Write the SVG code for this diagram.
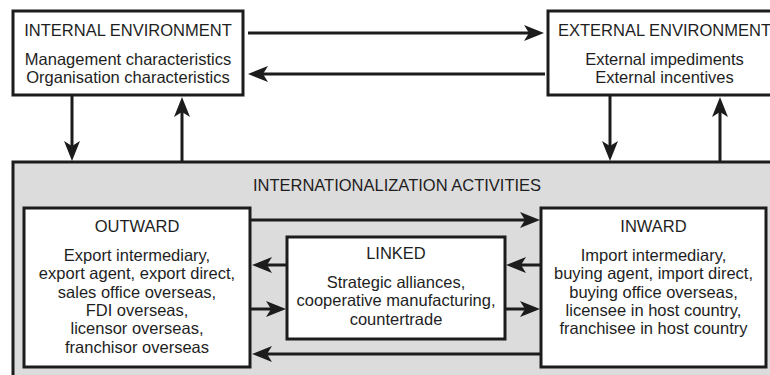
<svg xmlns="http://www.w3.org/2000/svg" width="770" height="375" viewBox="0 0 770 375">
<style>
.box{fill:#ffffff;stroke:#1c1c1c;stroke-width:3}
.grey{fill:#dcdcdc;stroke:#1c1c1c;stroke-width:3}
.t{font-family:"Liberation Sans",Arial,sans-serif;font-size:16.5px;fill:#1e1e1e;text-anchor:middle}
.c{stroke:#1c1c1c;stroke-width:3;fill:none;marker-end:url(#ah)}
</style>
<defs>
<marker id="ah" viewBox="0 0 20 16" markerWidth="20" markerHeight="16" markerUnits="userSpaceOnUse" refX="15" refY="8" orient="auto">
<path d="M0,0 L20,8 L0,16 L5,8 Z" fill="#1c1c1c"/>
</marker>
</defs>
<rect width="770" height="375" fill="#ffffff"/>
<g id="activities">
<rect class="grey" x="13" y="162" width="790" height="250"/>
<text class="t" x="397" y="191">INTERNATIONALIZATION ACTIVITIES</text>
</g>
<g id="internal">
<rect class="box" x="13" y="11" width="230" height="84"/>
<text class="t" x="128" y="36">INTERNAL ENVIRONMENT</text>
<text class="t" x="128" y="65">Management characteristics</text>
<text class="t" x="128" y="83">Organisation characteristics</text>
</g>
<g id="external">
<rect class="box" x="548" y="11" width="233" height="84"/>
<text class="t" x="664.5" y="36">EXTERNAL ENVIRONMENT</text>
<text class="t" x="664.5" y="65">External impediments</text>
<text class="t" x="664.5" y="83">External incentives</text>
</g>
<g id="outward">
<rect class="box" x="24" y="208" width="226" height="159"/>
<text class="t" x="137" y="232">OUTWARD</text>
<text class="t" x="137" y="261">Export intermediary,</text>
<text class="t" x="137" y="279.3">export agent, export direct,</text>
<text class="t" x="137" y="297.6">sales office overseas,</text>
<text class="t" x="137" y="315.9">FDI overseas,</text>
<text class="t" x="137" y="334.2">licensor overseas,</text>
<text class="t" x="137" y="352.5">franchisor overseas</text>
</g>
<g id="linked">
<rect class="box" x="287" y="237" width="218" height="102"/>
<text class="t" x="396" y="259">LINKED</text>
<text class="t" x="396" y="288">Strategic alliances,</text>
<text class="t" x="396" y="306.3">cooperative manufacturing,</text>
<text class="t" x="396" y="324.6">countertrade</text>
</g>
<g id="inward">
<rect class="box" x="541" y="208" width="225" height="159"/>
<text class="t" x="653.5" y="232">INWARD</text>
<text class="t" x="653.5" y="261">Import intermediary,</text>
<text class="t" x="653.5" y="279.3">buying agent, import direct,</text>
<text class="t" x="653.5" y="297.6">buying office overseas,</text>
<text class="t" x="653.5" y="315.9">licensee in host country,</text>
<text class="t" x="653.5" y="334.2">franchisee in host country</text>
</g>
<g id="connectors">
<line class="c" x1="248" y1="33" x2="539" y2="33"/>
<line class="c" x1="545" y1="74" x2="253" y2="74"/>
<line class="c" x1="72" y1="96" x2="72" y2="156"/>
<line class="c" x1="182" y1="161" x2="182" y2="102"/>
<line class="c" x1="610" y1="96" x2="610" y2="156"/>
<line class="c" x1="720" y1="161" x2="720" y2="102"/>
<line class="c" x1="251" y1="220" x2="535" y2="220"/>
<line class="c" x1="540" y1="354" x2="257" y2="354"/>
<line class="c" x1="286" y1="265" x2="257" y2="265"/>
<line class="c" x1="251" y1="309" x2="281" y2="309"/>
<line class="c" x1="540" y1="265" x2="511" y2="265"/>
<line class="c" x1="506" y1="309" x2="535" y2="309"/>
</g>
</svg>
